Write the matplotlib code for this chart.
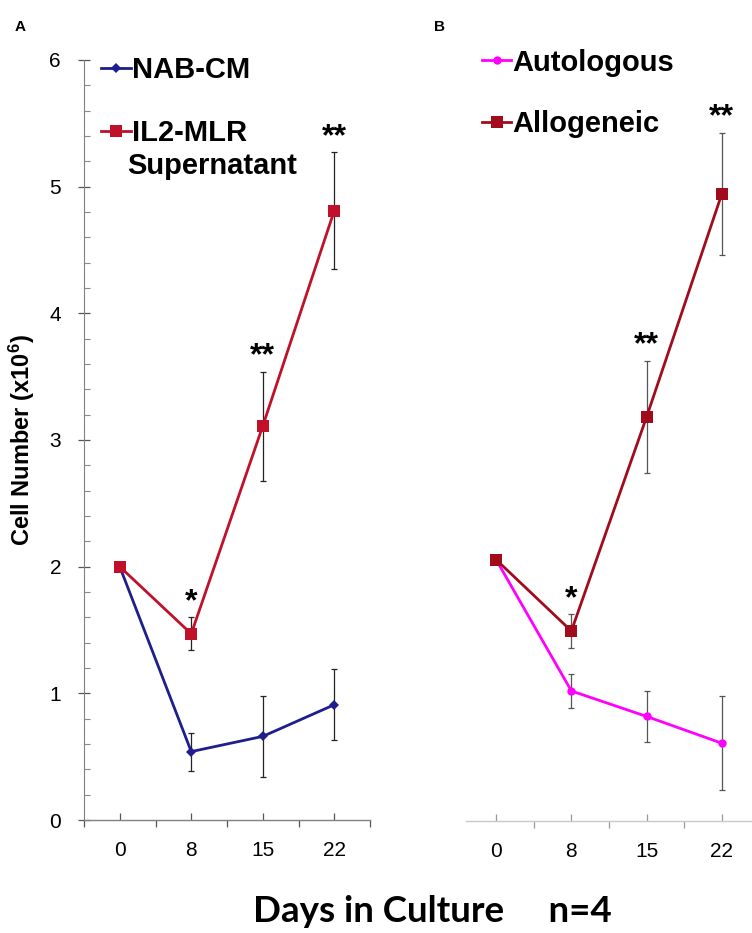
import numpy as np
import matplotlib
matplotlib.use("Agg")
import matplotlib.pyplot as plt
from matplotlib.ticker import MultipleLocator, FixedLocator

plt.rcParams["font.family"] = ["Liberation Sans", "DejaVu Sans"]
plt.rcParams["mathtext.fontset"] = "custom"
plt.rcParams["mathtext.rm"] = "Liberation Sans:bold"
plt.rcParams["mathtext.it"] = "Liberation Sans:bold"
plt.rcParams["mathtext.bf"] = "Liberation Sans:bold"

# ---- data ----
days = ["0", "8", "15", "22"]

nab_cm     = [2.00, 0.54, 0.66, 0.91]
nab_cm_err = [0.00, 0.15, 0.32, 0.28]
il2_mlr     = [2.00, 1.47, 3.11, 4.81]
il2_mlr_err = [0.00, 0.13, 0.43, 0.46]

autologous     = [2.05, 1.02, 0.82, 0.61]
autologous_err = [0.00, 0.13, 0.20, 0.37]
allogeneic     = [2.05, 1.49, 3.17, 4.92]
allogeneic_err = [0.00, 0.13, 0.44, 0.48]

stars_a = ["", "*", "**", "**"]
stars_b = ["", "*", "**", "**"]

# ---- colours ----
NAVY    = "#1e1e8c"
RED_A   = "#c0102a"
RED_B   = "#a00c1c"
MAGENTA = "#ff00ff"

W, H = 752, 933
fig = plt.figure(figsize=(W / 100, H / 100), dpi=100)

def box(x0, x1, y_top, y_bot):
    return [x0 / W, 1 - y_bot / H, (x1 - x0) / W, (y_bot - y_top) / H]

ax_a = fig.add_axes(box(84, 370, 60, 820))
ax_b = fig.add_axes(box(466, 752, 56, 821))

x = np.arange(len(days))


def draw_series(ax, y, err, color, marker, ms, ecolor):
    ax.errorbar(x, y, yerr=err, fmt="none", ecolor=ecolor, elinewidth=0.9,
                capsize=2.2, capthick=0.9, zorder=2)
    line, = ax.plot(x, y, color=color, lw=2.0, marker=marker, ms=ms,
                    markeredgewidth=0, zorder=3)
    return line


def draw_stars(ax, y, err, stars):
    for xi, yi, ei, s in zip(x, y, err, stars):
        if s:
            ax.annotate(s, (xi, yi + ei), xytext=(0, 0), textcoords="offset points",
                        ha="center", va="bottom", fontsize=23, fontweight="bold")


def style_xaxis(ax, spine_color, tick_color):
    ax.set_xticks(x)
    ax.set_xticklabels(days, fontsize=15)
    ax.xaxis.set_minor_locator(FixedLocator(np.arange(-0.5, len(days) + 0.5, 1.0)))
    ax.tick_params(axis="x", which="major", direction="in", length=5, width=0.9,
                   color=tick_color, pad=15)
    ax.tick_params(axis="x", which="minor", direction="out", length=5, width=0.9,
                   color=tick_color)
    ax.spines["bottom"].set_color(spine_color)
    ax.spines["bottom"].set_linewidth(1.0)
    ax.spines["top"].set_visible(False)
    ax.spines["right"].set_visible(False)


# ---- panel A ----
h1 = draw_series(ax_a, nab_cm, nab_cm_err, NAVY, "D", 5.5, "#222222")
h2 = draw_series(ax_a, il2_mlr, il2_mlr_err, RED_A, "s", 8.5, "#222222")
draw_stars(ax_a, il2_mlr, il2_mlr_err, stars_a)

ax_a.set_xlim(-0.5, 3.5)
ax_a.set_ylim(0, 6)
style_xaxis(ax_a, "#808080", "#555555")
ax_a.yaxis.set_major_locator(MultipleLocator(1))
ax_a.yaxis.set_minor_locator(MultipleLocator(0.2))
ax_a.tick_params(axis="y", which="major", direction="inout", length=9, width=0.9,
                 color="#555555", labelsize=15, pad=12)
ax_a.tick_params(axis="y", which="minor", direction="in", length=4, width=0.8,
                 color="#888888")
ax_a.spines["left"].set_color("#808080")
ax_a.set_ylabel(r"Cell Number (x10$^{6}$)", fontsize=17, fontweight="bold", labelpad=9)

ax_a.legend([h1, h2], ["NAB-CM", "IL2-MLR"], loc="upper left",
            bbox_to_anchor=(0.02, 1.02), frameon=False,
            prop={"size": 21, "weight": "bold"}, handlelength=1.0,
            handletextpad=0.05, labelspacing=1.2, borderaxespad=0)
ax_a.text(0.152, 0.861, "Supernatant", transform=ax_a.transAxes, fontsize=21,
          fontweight="bold", va="center", ha="left")

# ---- panel B ----
h3 = draw_series(ax_b, autologous, autologous_err, MAGENTA, "o", 6, "#555555")
h4 = draw_series(ax_b, allogeneic, allogeneic_err, RED_B, "s", 8.5, "#555555")
draw_stars(ax_b, allogeneic, allogeneic_err, stars_b)

ax_b.set_xlim(-0.4, 3.4)
ax_b.set_ylim(0, 6)
style_xaxis(ax_b, "#c8c8c8", "#999999")
ax_b.spines["left"].set_visible(False)
ax_b.set_yticks([])

ax_b.legend([h3, h4], ["Autologous", "Allogeneic"], loc="upper left",
            bbox_to_anchor=(0.015, 1.025), frameon=False,
            prop={"size": 21, "weight": "bold"}, handlelength=1.0,
            handletextpad=0.05, labelspacing=1.15, borderaxespad=0)

# ---- labels ----
fig.text(15 / W, 1 - 27 / H, "A", fontsize=11, fontweight="bold", va="center")
fig.text(434 / W, 1 - 27 / H, "B", fontsize=11, fontweight="bold", va="center")
fig.text(432 / W, 1 - 912 / H, "Days in Culture     n=4", fontsize=26.5,
         fontweight="bold", family=["Lato", "DejaVu Sans"], ha="center", va="center")

fig.savefig("out.png", dpi=100)
